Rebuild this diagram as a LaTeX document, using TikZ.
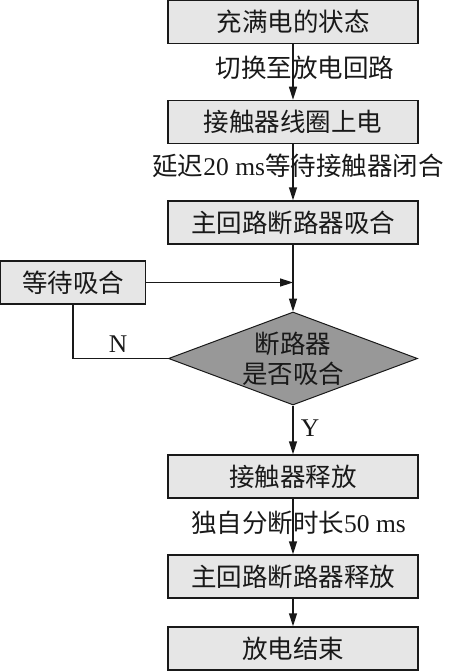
\documentclass[tikz,border=0pt]{standalone}
\usepackage{fontspec}
\setmainfont{Liberation Serif}
\newfontfamily\cjk{Noto Sans CJK SC}
\usetikzlibrary{shapes.geometric,arrows.meta}
\definecolor{boxfill}{RGB}{230,230,230}
\definecolor{diafill}{RGB}{152,152,152}
\definecolor{linec}{RGB}{25,25,25}
\begin{document}
\begin{tikzpicture}[x=1pt,y=-1pt,
  every node/.style={font=\fontsize{25.5}{30}\selectfont, text=linec},
  procbox/.style={draw=linec, fill=boxfill, line width=1.5pt, minimum width=250pt, minimum height=43pt, inner sep=0pt},
  sidebox/.style={draw=linec, fill=boxfill, line width=1.5pt, minimum width=145pt, minimum height=43pt, inner sep=0pt},
  decision/.style={diamond, draw=linec, fill=diafill, line width=1pt, minimum width=249pt, minimum height=93pt, inner sep=0pt, aspect=2.68, align=center},
  flow/.style={draw=linec, line width=1.5pt, -{Triangle[length=13pt,width=8pt]}},
  plain/.style={draw=linec, line width=1.5pt},
  lbl/.style={inner sep=0pt}]
\useasboundingbox (0,0) rectangle (450,671);
\node[procbox] (b1) at (293,22) {\cjk 充满电的状态};
\node[procbox] (b2) at (293,122) {\cjk 接触器线圈上电};
\node[procbox] (b3) at (293,222.5) {\cjk 主回路断路器吸合};
\node[sidebox] (w) at (73,282.5) {\cjk 等待吸合};
\node[decision] (d) at (293,358.5) {\cjk 断路器\\\cjk 是否吸合};
\node[procbox] (b4) at (293,476.5) {\cjk 接触器释放};
\node[procbox] (b5) at (293,576.5) {\cjk 主回路断路器释放};
\node[procbox] (b6) at (293,648.5) {\cjk 放电结束};
\coordinate (j) at (b3.south |- w.east);
\coordinate (nc) at (w.south |- d.west);
\draw[flow] (b1) -- (b2);
\draw[flow] (b2) -- (b3);
\draw[flow] (b3) -- (d.north);
\draw[flow] (w.east) -- (j);
\draw[plain] (d.west) -- (nc) -- (w.south);
\draw[flow] (d.south) -- (b4);
\draw[flow] (b4) -- (b5);
\draw[flow] (b5) -- (b6);
\node[lbl] (l1) at (305,68) {\cjk 切换至放电回路};
\node[lbl] (l2) at (298,166) {{\cjk 延迟}20 ms{\cjk 等待接触器闭合}};
\node[lbl] (l3) at (298.5,523) {{\cjk 独自分断时长}50 ms};
\node[lbl] (ln) at (118,344) {N};
\node[lbl] (ly) at (310,428) {Y};
\end{tikzpicture}
\end{document}
